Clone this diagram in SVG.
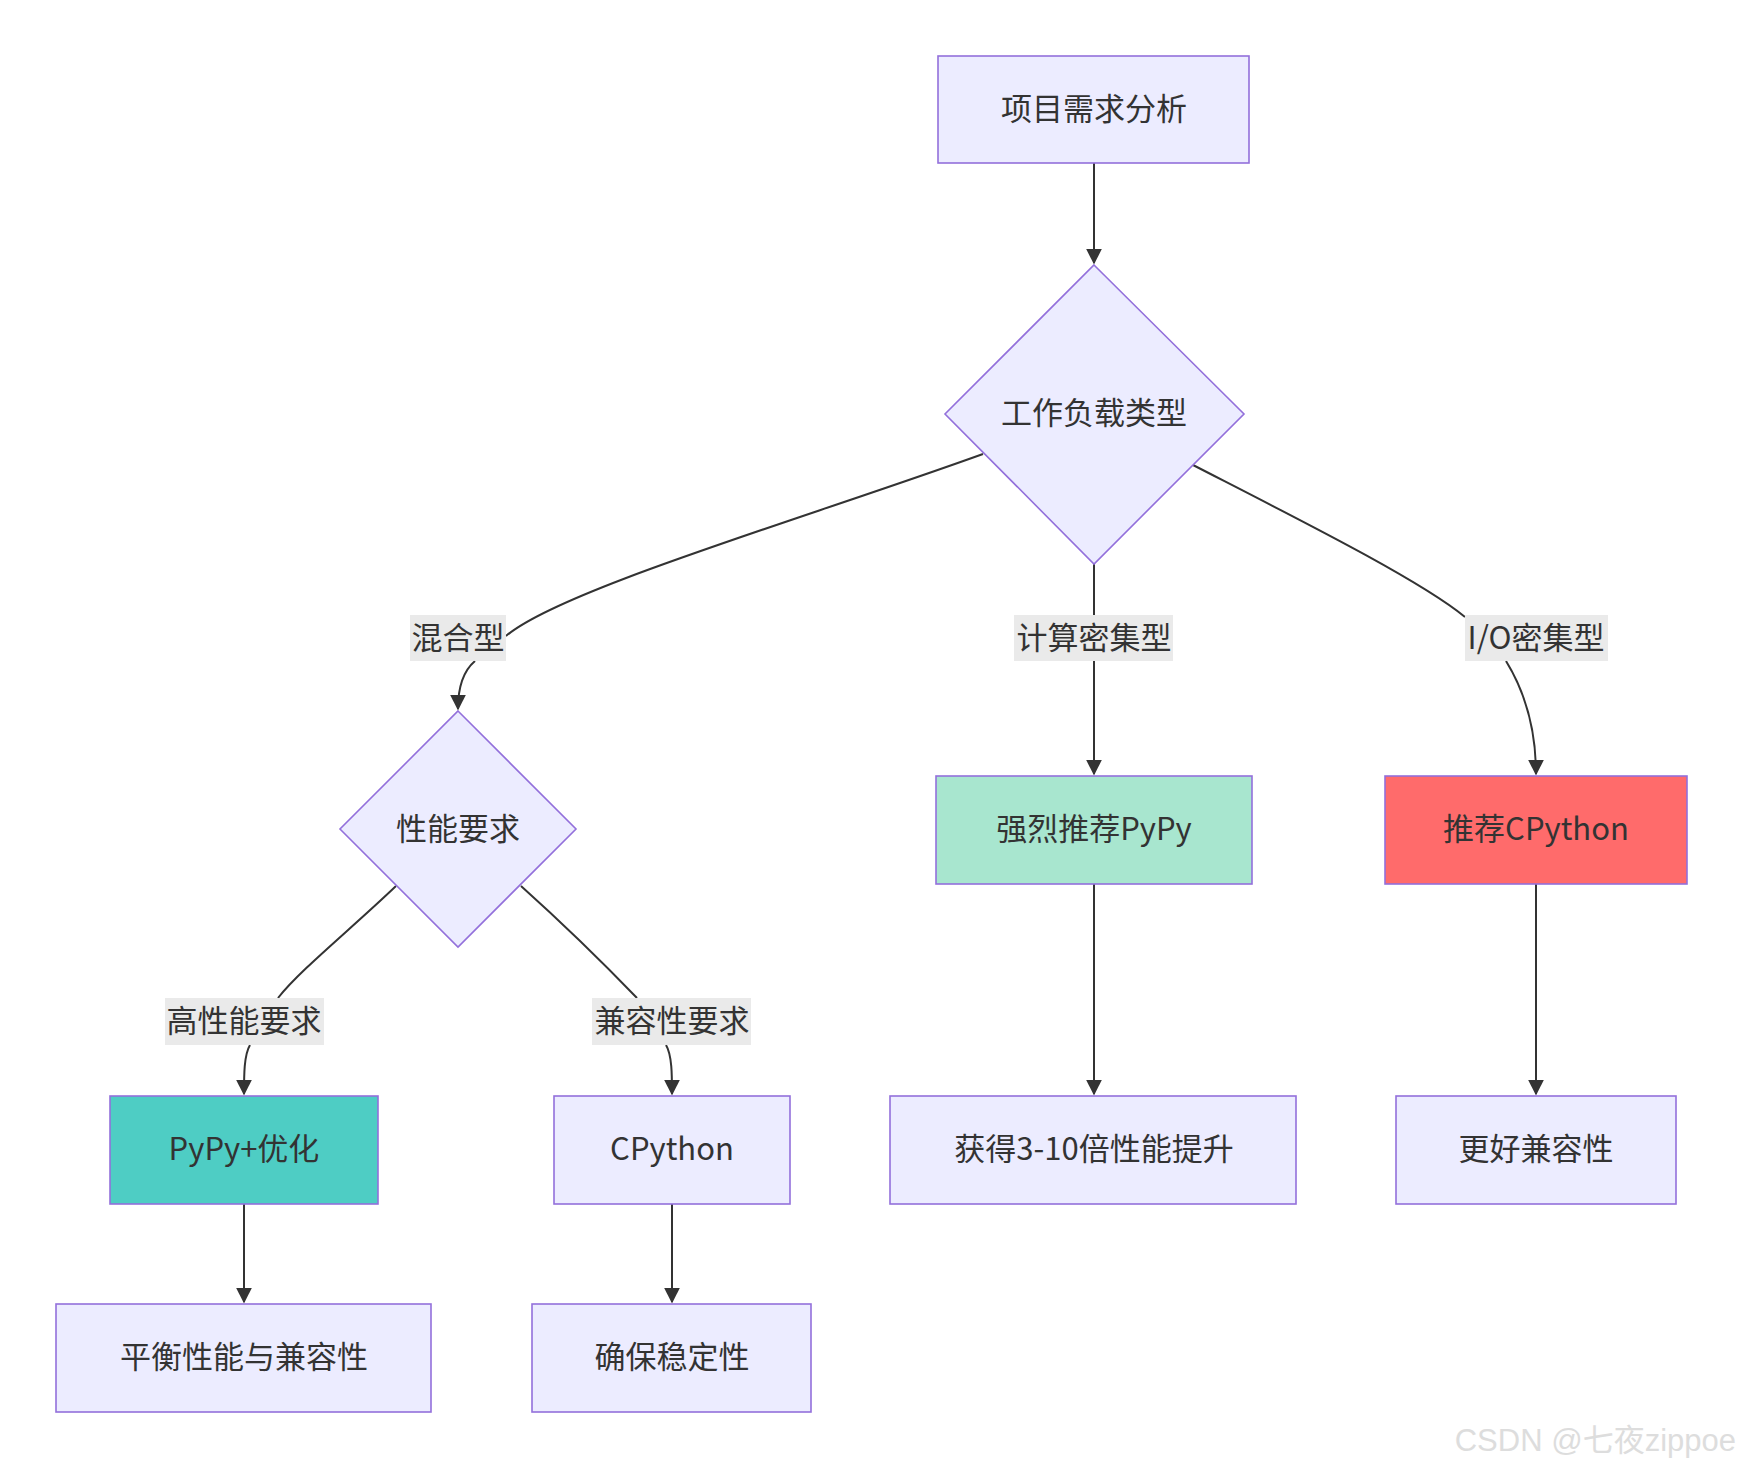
<svg xmlns="http://www.w3.org/2000/svg" width="1743" height="1468" viewBox="0 0 1743 1468">
<style>
.n{fill:#ececff;stroke:#9370db;stroke-width:1.6}
text{font-family:"Noto Sans CJK SC","Noto Sans",sans-serif;font-size:31px;fill:#333;text-anchor:middle;dominant-baseline:central}
.e{fill:none;stroke:#333;stroke-width:2}
.lb{fill:#e8e8e8;opacity:0.9}
</style>
<defs><marker id="a" viewBox="0 0 10 10" refX="9" refY="5" markerWidth="8" markerHeight="8" orient="auto"><path d="M0,0L10,5L0,10z" fill="#333"/></marker></defs>
<rect width="1743" height="1468" fill="#fff"/>
<g id="edges">
<path class="e" d="M1094,163V263" marker-end="url(#a)"/>
<path class="e" d="M983,454C800,520 560,590 506,636"/>
<path class="e" d="M475,661C462,672 458,690 458,709" marker-end="url(#a)"/>
<path class="e" d="M1094,564V615M1094,661V774" marker-end="url(#a)"/>
<path class="e" d="M1193,465C1300,520 1420,580 1465,617"/>
<path class="e" d="M1506,661C1530,700 1536,740 1536,774" marker-end="url(#a)"/>
<path class="e" d="M1094,884V1094" marker-end="url(#a)"/>
<path class="e" d="M1536,884V1094" marker-end="url(#a)"/>
<path class="e" d="M396,886C350,930 300,970 278,998"/>
<path class="e" d="M250,1045C244,1055 244,1075 244,1094" marker-end="url(#a)"/>
<path class="e" d="M521,886C570,930 610,970 637,998"/>
<path class="e" d="M666,1045C672,1055 672,1075 672,1094" marker-end="url(#a)"/>
<path class="e" d="M244,1204V1302" marker-end="url(#a)"/>
<path class="e" d="M672,1204V1302" marker-end="url(#a)"/>
</g>
<g id="labels">
<rect class="lb" x="410" y="615" width="96" height="46"/><text x="458" y="635">混合型</text>
<rect class="lb" x="1014" y="615" width="159" height="46"/><text x="1094" y="635">计算密集型</text>
<rect class="lb" x="1465" y="615" width="143" height="46"/><text x="1536" y="635">I/O密集型</text>
<rect class="lb" x="165" y="998" width="159" height="47"/><text x="244" y="1018">高性能要求</text>
<rect class="lb" x="592" y="998" width="159" height="47"/><text x="672" y="1018">兼容性要求</text>
</g>
<g id="n1"><rect class="n" x="938" y="56" width="311" height="107"/><text x="1094" y="106">项目需求分析</text></g>
<g id="n2"><path class="n" d="M1094,265L1244,414L1094,564L945,414Z"/><text x="1094" y="410">工作负载类型</text></g>
<g id="n3"><path class="n" d="M458,711L576,829L458,947L340,829Z"/><text x="458" y="826">性能要求</text></g>
<g id="n4"><rect class="n" x="936" y="776" width="316" height="108" style="fill:#a8e6cf"/><text x="1094" y="826">强烈推荐PyPy</text></g>
<g id="n5"><rect class="n" x="1385" y="776" width="302" height="108" style="fill:#ff6b6b"/><text x="1536" y="826">推荐CPython</text></g>
<g id="n6"><rect class="n" x="110" y="1096" width="268" height="108" style="fill:#4ecdc4"/><text x="244" y="1146">PyPy+优化</text></g>
<g id="n7"><rect class="n" x="554" y="1096" width="236" height="108"/><text x="672" y="1146">CPython</text></g>
<g id="n8"><rect class="n" x="890" y="1096" width="406" height="108"/><text x="1094" y="1146">获得3-10倍性能提升</text></g>
<g id="n9"><rect class="n" x="1396" y="1096" width="280" height="108"/><text x="1536" y="1146">更好兼容性</text></g>
<g id="n10"><rect class="n" x="56" y="1304" width="375" height="108"/><text x="244" y="1354">平衡性能与兼容性</text></g>
<g id="n11"><rect class="n" x="532" y="1304" width="279" height="108"/><text x="672" y="1354">确保稳定性</text></g>
<text x="1736" y="1440" style="font-family:'Liberation Sans','Noto Sans CJK SC',sans-serif;font-size:31px;fill:#ddd;text-anchor:end">CSDN @七夜zippoe</text>
</svg>
